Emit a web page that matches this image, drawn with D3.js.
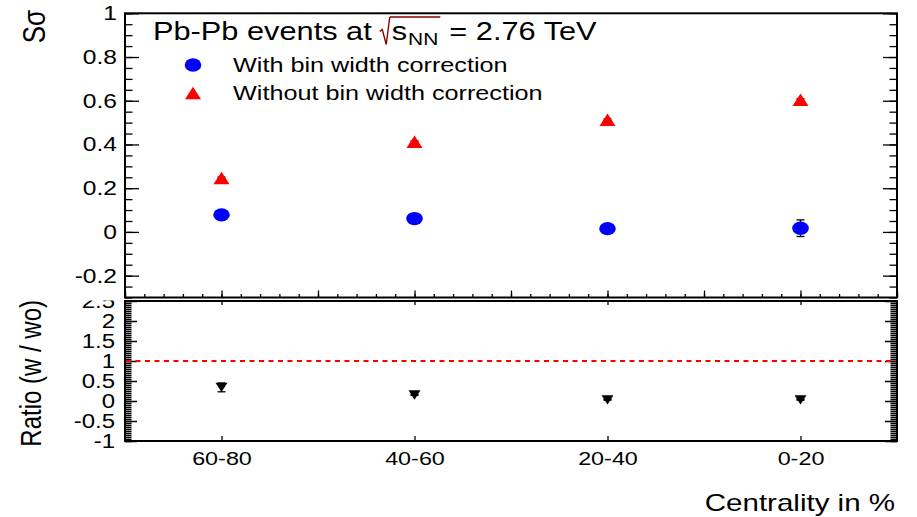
<!DOCTYPE html>
<html><head><meta charset="utf-8">
<script src="https://cdn.jsdelivr.net/npm/d3@7"></script>
<style>
body{margin:0;background:#fff}
svg{display:block}
text{font-family:"Liberation Sans",Arial,Helvetica,sans-serif;fill:#000}
</style>
</head><body>
<svg id="chart" width="917" height="517"></svg>
<script>
// Centrality classes and the two S-sigma estimates per class
const categories = ["60-80", "40-60", "20-40", "0-20"];
const withCorr = [0.078, 0.061, 0.015, 0.017];
const withCorrErr = [0.004, 0.004, 0.004, 0.038];
const withoutCorr = [0.247, 0.412, 0.513, 0.605];
const withoutCorrErr = [0.004, 0.004, 0.004, 0.004];
// ratio with / without correction
const ratio = [0.34, 0.15, 0.03, 0.03];
const ratioErr = [0.11, 0.01, 0.01, 0.01];
// tick labels
const topTicks = [-0.2, 0, 0.2, 0.4, 0.6, 0.8, 1];
const ratioTicks = [-1, -0.5, 0, 0.5, 1, 1.5, 2, 2.5];
const legendLabels = ["With bin width correction", "Without bin width correction"];

const SX = 1.23;           // horizontal glyph stretch of the canvas
const svg = d3.select("#chart");
const L = 125, R = 897;
const plain = d => String(d);   // ASCII hyphen for negatives

const x = d3.scaleLinear().domain([0, 2 * categories.length]).range([L, R]);
const cx = i => x(2 * i + 1);
const yTop = d3.scaleLinear().domain([-0.3, 1]).range([297.5, 13.3]);
const yRat = d3.scaleLinear().domain([-1, 2.5]).range([441, 301]);

function stretchLabels(g) {
  g.selectAll(".tick text").each(function () {
    const t = d3.select(this);
    const tx = +t.attr("x") || 0, ty = +t.attr("y") || 0;
    t.attr("x", 0).attr("y", 0).attr("transform", `translate(${tx},${ty}) scale(${SX},1)`);
  });
}
function styleAxis(g, fs) {
  g.select(".domain").remove();
  g.selectAll(".tick line").attr("stroke", "#000").attr("stroke-width", 1.3);
  g.selectAll(".tick text").attr("font-size", fs).attr("fill", "#000")
    .attr("font-family", '"Liberation Sans",Arial,sans-serif');
}

// ---------------- upper pad ----------------
const upperPad = svg.append("g");
const rng = (a, b, s) => d3.range(Math.round((b - a) / s) + 1).map(k => +(a + k * s).toFixed(4));

// left axis
upperPad.append("g").attr("transform", `translate(${L},0)`)
  .call(d3.axisLeft(yTop).tickValues(rng(-0.3, 1, 0.05)).tickSize(-7.5).tickFormat(""))
  .call(g => styleAxis(g, 0));
upperPad.append("g").attr("transform", `translate(${L},0)`)
  .call(d3.axisLeft(yTop).tickValues(topTicks).tickSize(-14).tickPadding(8).tickFormat(plain))
  .call(g => styleAxis(g, 20)).call(stretchLabels);
// right axis
upperPad.append("g").attr("transform", `translate(${R},0)`)
  .call(d3.axisRight(yTop).tickValues(rng(-0.3, 1, 0.05)).tickSize(-7.5).tickFormat(""))
  .call(g => styleAxis(g, 0));
upperPad.append("g").attr("transform", `translate(${R},0)`)
  .call(d3.axisRight(yTop).tickValues(topTicks).tickSize(-14).tickFormat(""))
  .call(g => styleAxis(g, 0));
// bottom x ticks
upperPad.append("g").attr("transform", `translate(0,${yTop(-0.3)})`)
  .call(d3.axisBottom(x).tickValues(rng(0, 8, 0.2)).tickSize(-3.5).tickFormat(""))
  .call(g => styleAxis(g, 0));
upperPad.append("g").attr("transform", `translate(0,${yTop(-0.3)})`)
  .call(d3.axisBottom(x).tickValues(d3.range(0, 9)).tickSize(-7).tickFormat(""))
  .call(g => styleAxis(g, 0));

upperPad.append("rect").attr("x", L).attr("y", yTop(1)).attr("width", R - L)
  .attr("height", yTop(-0.3) - yTop(1)).attr("fill", "none").attr("stroke", "#000").attr("stroke-width", 2);

// error bars
function errBars(g, vals, errs, y, cap) {
  vals.forEach((v, i) => {
    const y1 = y(v - errs[i]), y2 = y(v + errs[i]);
    g.append("line").attr("x1", cx(i)).attr("x2", cx(i)).attr("y1", y1).attr("y2", y2)
      .attr("stroke", "#000").attr("stroke-width", 1.3);
    [y1, y2].forEach(yy => g.append("line").attr("x1", cx(i) - cap).attr("x2", cx(i) + cap)
      .attr("y1", yy).attr("y2", yy).attr("stroke", "#000").attr("stroke-width", 1.3));
  });
}
errBars(upperPad, withCorr, withCorrErr, yTop, 4);
errBars(upperPad, withoutCorr, withoutCorrErr, yTop, 4);

const triUp = (px, py, w, h) => `M${px - w / 2},${py + h / 2}L${px + w / 2},${py + h / 2}L${px},${py - h / 2}Z`;
const triDown = (px, py, w, h) => `M${px - w / 2},${py - h / 2}L${px + w / 2},${py - h / 2}L${px},${py + h / 2}Z`;

upperPad.selectAll("ellipse.w").data(withCorr).join("ellipse").attr("class", "w")
  .attr("cx", (d, i) => cx(i)).attr("cy", d => yTop(d)).attr("rx", 8.3).attr("ry", 6.7).attr("fill", "#0000ff");
upperPad.selectAll("path.wo").data(withoutCorr).join("path").attr("class", "wo")
  .attr("d", (d, i) => triUp(cx(i), yTop(d), 16, 12.5)).attr("fill", "#ff0000");

// title
const tColor = "#880000";
function stext(g, str, px, py, fs, opts = {}) {
  const t = g.append("text").attr("transform", `translate(${px},${py}) scale(${SX},1)`)
    .attr("font-size", fs).text(str);
  if (opts.fill) t.attr("fill", opts.fill);
  if (opts.anchor) t.attr("text-anchor", opts.anchor);
  return t;
}
(function title() {
  let px = 153; const base = 39.5;
  const t1 = stext(svg, "Pb-Pb events at", px, base, 25, { fill: tColor });
  px += t1.node().getComputedTextLength() * SX + 8;
  // radical sign
  const rx0 = px, rTop = 17;
  svg.append("path")
    .attr("d", `M${rx0},${base - 8}L${rx0 + 2.5},${base - 10}L${rx0 + 6.5},${base + 5}L${rx0 + 10},${rTop}`)
    .attr("fill", "none").attr("stroke", tColor).attr("stroke-width", 1.4);
  px = rx0 + 12;
  const s = stext(svg, "s", px, base, 25, { fill: tColor });
  px += s.node().getComputedTextLength() * SX + 1;
  const nn = stext(svg, "NN", px, base + 5, 17, { fill: tColor });
  px += nn.node().getComputedTextLength() * SX + 2;
  svg.append("line").attr("x1", rx0 + 10).attr("x2", px).attr("y1", rTop).attr("y2", rTop)
    .attr("stroke", tColor).attr("stroke-width", 1.4);
  stext(svg, "= 2.76 TeV", px + 9, base, 25, { fill: tColor });
})();

// legend
svg.append("ellipse").attr("cx", 193).attr("cy", 65).attr("rx", 8.3).attr("ry", 6.7).attr("fill", "#0000ff");
svg.append("path").attr("d", triUp(193, 93, 16, 12.5)).attr("fill", "#ff0000");
stext(svg, legendLabels[0], 233, 72.3, 20.5);
stext(svg, legendLabels[1], 233, 100.3, 20.5);

// y title upper
svg.append("text").attr("transform", `translate(45,10) scale(${SX},1) rotate(-90)`)
  .attr("font-size", 26).attr("text-anchor", "end").text("Sσ");

// ---------------- lower pad ----------------
const lowerPad = svg.append("g");
svg.append("defs").append("clipPath").attr("id", "padclip")
  .append("rect").attr("x", 0).attr("y", 300.5).attr("width", 917).attr("height", 217);
const lowerClip = lowerPad.append("g").attr("clip-path", "url(#padclip)");

lowerClip.append("g").attr("transform", `translate(${L},0)`)
  .call(d3.axisLeft(yRat).tickValues(rng(-1, 2.5, 0.05)).tickSize(-6.5).tickFormat(""))
  .call(g => styleAxis(g, 0));
lowerClip.append("g").attr("transform", `translate(${L},0)`)
  .call(d3.axisLeft(yRat).tickValues(ratioTicks).tickSize(-12).tickPadding(10).tickFormat(plain))
  .call(g => styleAxis(g, 19.5)).call(stretchLabels);
lowerClip.append("g").attr("transform", `translate(${R},0)`)
  .call(d3.axisRight(yRat).tickValues(rng(-1, 2.5, 0.05)).tickSize(-6.5).tickFormat(""))
  .call(g => styleAxis(g, 0));
lowerClip.append("g").attr("transform", `translate(${R},0)`)
  .call(d3.axisRight(yRat).tickValues(ratioTicks).tickSize(-12).tickFormat(""))
  .call(g => styleAxis(g, 0));

lowerPad.append("g").attr("transform", `translate(0,${yRat(-1)})`)
  .call(d3.axisBottom(x).tickValues(categories.map((c, i) => 2 * i + 1)).tickSize(-5).tickPadding(11)
    .tickFormat((d, i) => categories[i]))
  .call(g => styleAxis(g, 19)).call(stretchLabels);
lowerPad.append("g").attr("transform", `translate(0,${yRat(2.5)})`)
  .call(d3.axisTop(x).tickValues(categories.map((c, i) => 2 * i + 1)).tickSize(-4).tickFormat(""))
  .call(g => styleAxis(g, 0));

lowerPad.append("rect").attr("x", L).attr("y", yRat(2.5)).attr("width", R - L)
  .attr("height", yRat(-1) - yRat(2.5)).attr("fill", "none").attr("stroke", "#000").attr("stroke-width", 2);

// unity reference line
lowerPad.append("line").attr("x1", L + 1).attr("x2", R - 1).attr("y1", yRat(1)).attr("y2", yRat(1))
  .attr("stroke", "#ff0000").attr("stroke-width", 2).attr("stroke-dasharray", "5,4.5");

errBars(lowerPad, ratio, ratioErr, yRat, 4);
lowerPad.selectAll("path.r").data(ratio).join("path").attr("class", "r")
  .attr("d", (d, i) => triDown(cx(i), yRat(d), 12, 9.3)).attr("fill", "#000");

svg.append("text").attr("transform", `translate(41,300) scale(${SX},1) rotate(-90)`)
  .attr("font-size", 24).attr("text-anchor", "end").text("Ratio (w / wo)");

stext(svg, "Centrality in %", 895, 510.5, 24, { anchor: "end" });
</script>
</body></html>
